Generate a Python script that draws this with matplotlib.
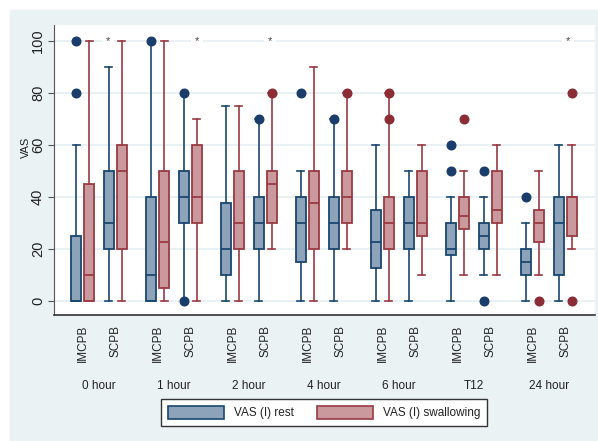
import matplotlib.pyplot as plt
from matplotlib.patches import Rectangle, Patch

plt.rcParams['font.family'] = ['Liberation Sans', 'DejaVu Sans']

times = ["0 hour", "1 hour", "2 hour", "4 hour", "6 hour", "T12", "24 hour"]
groups = ["IMCPB", "SCPB"]
series = ["VAS (I) rest", "VAS (I) swallowing"]

# order: (0 hour, IMCPB), (0 hour, SCPB), (1 hour, IMCPB), ...
rest_q1 = [0, 20, 0, 30, 10, 20, 15, 20, 12.5, 20, 17.5, 20, 10, 10]
rest_med = [0, 30, 10, 40, 20, 30, 30, 30, 22.5, 30, 20, 25, 15, 30]
rest_q3 = [25, 50, 40, 50, 37.5, 40, 40, 40, 35, 40, 30, 30, 20, 40]
rest_lo = [0, 0, 0, 0, 0, 0, 0, 0, 0, 0, 0, 10, 0, 0]
rest_hi = [60, 90, 100, 80, 75, 70, 50, 70, 60, 50, 40, 40, 30, 60]
rest_out = [[80, 100], [], [100], [0, 80], [], [70], [80], [70], [], [],
            [50, 60], [0, 50], [40], []]

swal_q1 = [0, 20, 5, 30, 20, 30, 20, 30, 20, 25, 27.5, 30, 22.5, 25]
swal_med = [10, 50, 22.5, 40, 30, 45, 37.5, 40, 30, 30, 32.5, 35, 30, 40]
swal_q3 = [45, 60, 50, 60, 50, 50, 50, 50, 40, 50, 40, 50, 35, 40]
swal_lo = [0, 0, 0, 0, 0, 20, 0, 20, 0, 10, 10, 10, 10, 20]
swal_hi = [100, 100, 100, 70, 75, 80, 90, 80, 80, 60, 50, 60, 50, 60]
swal_out = [[], [], [], [], [], [80], [], [80], [70, 80], [], [70], [], [0],
            [0, 80]]

# significance markers at the top
star_times = ["0 hour", "1 hour", "2 hour", "24 hour"]
star_value = 100

# layout (pixel-like units on the x axis)
x0 = 76
group_step = 75
sub_step = 33
var_step = 13
star_shift = [32, 46, 44, 42]

blue_edge = '#1a476f'
blue_fill = '#8ca3b9'
blue_dot = '#1a3d6b'
red_edge = '#9a3a43'
red_fill = '#c9999e'
red_dot = '#8c2c35'
bg = '#eaf2f3'
grid_c = '#e3edf1'
text_c = '#222222'


def make_stats(q1, med, q3, lo, hi, out):
    return [dict(q1=a, med=b, q3=c, whislo=d, whishi=e, fliers=f)
            for a, b, c, d, e, f in zip(q1, med, q3, lo, hi, out)]


fig = plt.figure(figsize=(5.98, 4.41), dpi=100)
fig.patches.append(Rectangle((10 / 598, 0), 1, 1 - 10 / 441,
                             transform=fig.transFigure, color=bg, zorder=-10))

ax = fig.add_axes([54 / 598, 1 - 315 / 441, 541 / 598, 290 / 441])
ax.set_facecolor('white')

base = [x0 + t * group_step + g * sub_step
        for t in range(len(times)) for g in range(len(groups))]

for k, (stats, edge, fill, dot) in enumerate([
        (make_stats(rest_q1, rest_med, rest_q3, rest_lo, rest_hi, rest_out),
         blue_edge, blue_fill, blue_dot),
        (make_stats(swal_q1, swal_med, swal_q3, swal_lo, swal_hi, swal_out),
         red_edge, red_fill, red_dot)]):
    ax.bxp(stats, positions=[b + k * var_step for b in base], widths=9.5,
           capwidths=7, patch_artist=True, manage_ticks=False,
           boxprops=dict(facecolor=fill, edgecolor=edge, linewidth=1.3),
           medianprops=dict(color=edge, linewidth=1.3),
           whiskerprops=dict(color=edge, linewidth=1.2),
           capprops=dict(color=edge, linewidth=1.2),
           flierprops=dict(marker='o', markerfacecolor=dot,
                           markeredgecolor=dot, markersize=6.2))

for name, shift in zip(star_times, star_shift):
    t = times.index(name)
    ax.text(x0 + t * group_step + shift, star_value, '*', ha='center',
            va='center', fontsize=8, color='#444444', zorder=1.5,
            bbox=dict(facecolor='white', edgecolor='none', pad=2.5))

ax.set_xlim(54, 595)
ax.set_ylim(-5.5, 106)
ax.set_yticks([0, 20, 40, 60, 80, 100])
ax.set_yticklabels(['0', '20', '40', '60', '80', '100'], rotation=90,
                   va='center', fontsize=10.5, color=text_c)
ax.tick_params(axis='y', length=4, color='#555555', pad=2.5)
ax.yaxis.grid(True, color=grid_c, linewidth=1.1)
ax.set_axisbelow(True)

ax.set_xticks([b + var_step / 2 for b in base])
ax.set_xticklabels(groups * len(times), rotation=90, va='top', fontsize=8.5,
                   color=text_c)
ax.tick_params(axis='x', length=0, pad=7)

for t, name in enumerate(times):
    ax.text(x0 + t * group_step + (sub_step + var_step) / 2, -0.245, name,
            transform=ax.get_xaxis_transform(), ha='center', va='center',
            fontsize=8.5, color=text_c)

ax.set_ylabel("VAS", fontsize=8, color=text_c)
ax.yaxis.label.set_va('center')
ax.yaxis.set_label_coords(-0.052, 0.579)

ax.spines['top'].set_visible(False)
ax.spines['right'].set_visible(False)
ax.spines['left'].set_color('#555555')
ax.spines['bottom'].set_color('#333333')
ax.spines['bottom'].set_linewidth(1.2)

handles = [Patch(facecolor=blue_fill, edgecolor=blue_edge, linewidth=1.2),
           Patch(facecolor=red_fill, edgecolor=red_edge, linewidth=1.2)]
leg = fig.legend(handles, series, ncol=2, loc='center',
                 bbox_to_anchor=(324 / 598, 1 - 412.5 / 441), fontsize=8.5,
                 frameon=True, fancybox=False, edgecolor='#333333',
                 framealpha=1, handlelength=4.75, handleheight=1.3,
                 handletextpad=0.8, columnspacing=2.0, borderpad=0.6)
leg.get_frame().set_linewidth(1.0)
for txt in leg.get_texts():
    txt.set_color(text_c)

fig.savefig('out.png', dpi=100)
